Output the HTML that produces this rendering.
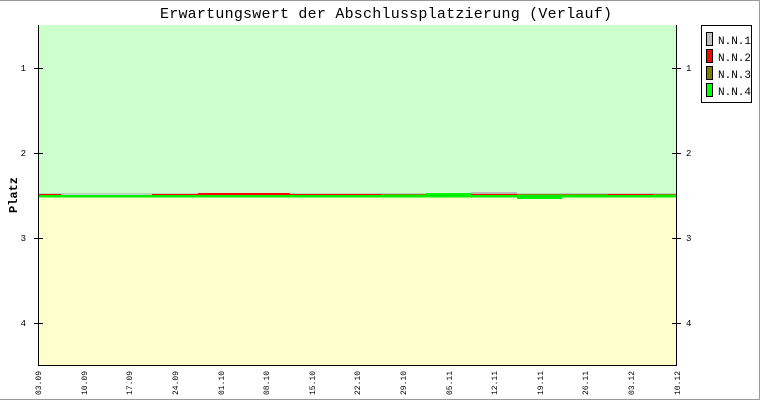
<!DOCTYPE html>
<html><head><style>
body{margin:0;background:#fff}
svg{display:block;font-family:"Liberation Mono","DejaVu Sans Mono",monospace}
</style></head><body>
<svg width="760" height="400" viewBox="0 0 760 400">
<rect x="0" y="0" width="760" height="400" fill="#fff"/>
<line x1="0" y1="0.5" x2="760" y2="0.5" stroke="#999"/>
<line x1="759.5" y1="0" x2="759.5" y2="400" stroke="#999"/>
<line x1="0" y1="399.5" x2="760" y2="399.5" stroke="#999"/>
<text x="386" y="18" text-anchor="middle" font-size="15" textLength="452">Erwartungswert der Abschlussplatzierung (Verlauf)</text>
<rect x="38" y="25" width="639" height="170" fill="#ccffcc"/>
<rect x="38" y="195" width="639" height="170" fill="#ffffcc"/>
<rect x="38" y="195" width="639" height="2.5" fill="#00ee00"/>
<rect x="38" y="193.5" width="639" height="1" fill="#aaaaaa"/>
<rect x="38" y="194" width="23" height="1" fill="#ff0000"/>
<rect x="152" y="194" width="46" height="1" fill="#ff0000"/>
<rect x="198" y="193" width="92" height="2" fill="#ff0000"/>
<rect x="290" y="194" width="45" height="1" fill="#ff0000"/>
<rect x="335" y="194" width="46" height="1" fill="#ff0000"/>
<rect x="381" y="194" width="45" height="1" fill="#888800"/>
<rect x="426" y="193" width="45" height="2" fill="#00ee00"/>
<rect x="471" y="192" width="46" height="1.5" fill="#bbbbbb"/>
<rect x="471" y="194" width="46" height="1" fill="#ff0000"/>
<rect x="517" y="194" width="45" height="1.5" fill="#888800"/>
<rect x="517" y="195" width="45" height="4" fill="#00ee00"/>
<rect x="562" y="194" width="46" height="1" fill="#888800"/>
<rect x="608" y="194" width="45" height="1" fill="#ff0000"/>
<rect x="653" y="194" width="24" height="1" fill="#888800"/>
<line x1="38.5" y1="25" x2="38.5" y2="365" stroke="#000"/>
<line x1="676.5" y1="25" x2="676.5" y2="365" stroke="#000"/>
<line x1="38" y1="365.5" x2="677" y2="365.5" stroke="#000"/>
<g stroke="#000">
<line x1="34" y1="68.5" x2="43" y2="68.5"/><line x1="672" y1="68.5" x2="681" y2="68.5"/>
<line x1="34" y1="153.5" x2="43" y2="153.5"/><line x1="672" y1="153.5" x2="681" y2="153.5"/>
<line x1="34" y1="238.5" x2="43" y2="238.5"/><line x1="672" y1="238.5" x2="681" y2="238.5"/>
<line x1="34" y1="323.5" x2="43" y2="323.5"/><line x1="672" y1="323.5" x2="681" y2="323.5"/>
</g>
<g font-size="9">
<text x="26" y="71" text-anchor="end">1</text><text x="686" y="71">1</text>
<text x="26" y="156" text-anchor="end">2</text><text x="686" y="156">2</text>
<text x="26" y="241" text-anchor="end">3</text><text x="686" y="241">3</text>
<text x="26" y="326" text-anchor="end">4</text><text x="686" y="326">4</text>
</g>
<text transform="translate(17,195) rotate(-90)" text-anchor="middle" font-size="12" font-weight="bold">Platz</text>
<g font-size="8">
<text transform="translate(41,395) rotate(-90)">03.09</text>
<text transform="translate(87,395) rotate(-90)">10.09</text>
<text transform="translate(132,395) rotate(-90)">17.09</text>
<text transform="translate(178,395) rotate(-90)">24.09</text>
<text transform="translate(224,395) rotate(-90)">01.10</text>
<text transform="translate(269,395) rotate(-90)">08.10</text>
<text transform="translate(315,395) rotate(-90)">15.10</text>
<text transform="translate(360,395) rotate(-90)">22.10</text>
<text transform="translate(406,395) rotate(-90)">29.10</text>
<text transform="translate(452,395) rotate(-90)">05.11</text>
<text transform="translate(497,395) rotate(-90)">12.11</text>
<text transform="translate(543,395) rotate(-90)">19.11</text>
<text transform="translate(588,395) rotate(-90)">26.11</text>
<text transform="translate(634,395) rotate(-90)">03.12</text>
<text transform="translate(680,395) rotate(-90)">10.12</text>
</g>
<rect x="701.5" y="25.5" width="50" height="77" fill="#fff" stroke="#000"/>
<g stroke="#000">
<rect x="706.5" y="32.5" width="6" height="13" fill="#c0c0c0"/>
<rect x="706.5" y="49.5" width="6" height="13" fill="#ff0000"/>
<rect x="706.5" y="66.5" width="6" height="13" fill="#808000"/>
<rect x="706.5" y="83.5" width="6" height="13" fill="#00ff00"/>
</g>
<g font-size="11">
<text x="718" y="44">N.N.1</text>
<text x="718" y="61">N.N.2</text>
<text x="718" y="78">N.N.3</text>
<text x="718" y="95">N.N.4</text>
</g>
</svg>
</body></html>
